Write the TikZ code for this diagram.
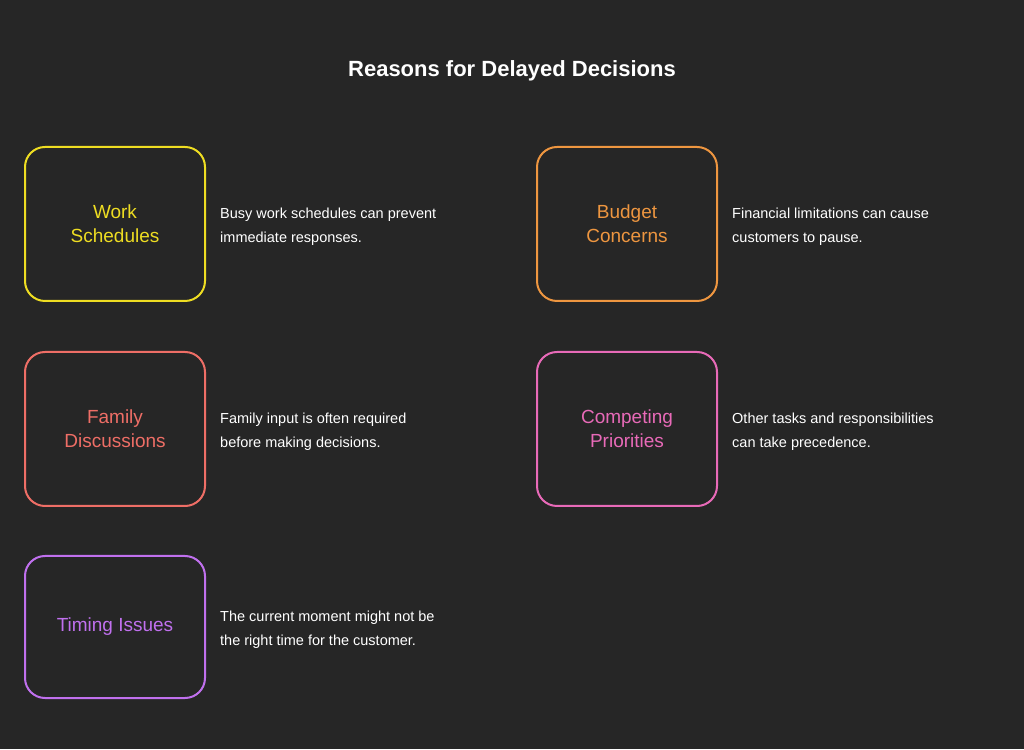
\documentclass[tikz,border=0pt]{standalone}
\usepackage{fontspec}
\setmainfont{Liberation Sans}
\begin{document}
\begin{tikzpicture}[x=1pt,y=1pt,
  box/.style={draw=#1,line width=2pt,rounded corners=20pt,minimum width=180pt,text=#1,align=center,font=\fontsize{19}{24}\selectfont},
  desc/.style={anchor=west,align=left,text=white,inner sep=0pt,font=\fontsize{14.5}{24}\selectfont}]
\definecolor{bg}{HTML}{262626}
\definecolor{cy}{HTML}{EEDD22}
\definecolor{co}{HTML}{EE9640}
\definecolor{cr}{HTML}{EE6E66}
\definecolor{cp}{HTML}{E86AB8}
\definecolor{cv}{HTML}{C070EE}
\fill[bg] (0,0) rectangle (1024,749);
\useasboundingbox (0,0) rectangle (1024,749);
\node[text=white,font=\bfseries\fontsize{22}{26}\selectfont] (t) at (512,678) {Reasons for Delayed Decisions};
\node[box=cy,minimum height=154pt] (b1) at (115,525) {Work\\Schedules};
\node[desc] (d1) at (220,522) {Busy work schedules can prevent\\immediate responses.};
\node[box=co,minimum height=154pt] (b2) at (627,525) {Budget\\Concerns};
\node[desc] (d2) at (732,522) {Financial limitations can cause\\customers to pause.};
\node[box=cr,minimum height=154pt] (b3) at (115,320) {Family\\Discussions};
\node[desc] (d3) at (220,317) {Family input is often required\\before making decisions.};
\node[box=cp,minimum height=154pt] (b4) at (627,320) {Competing\\Priorities};
\node[desc] (d4) at (732,317) {Other tasks and responsibilities\\can take precedence.};
\node[box=cv,minimum height=142pt] (b5) at (115,122) {Timing Issues};
\node[desc] (d5) at (220,119) {The current moment might not be\\the right time for the customer.};
\end{tikzpicture}
\end{document}
